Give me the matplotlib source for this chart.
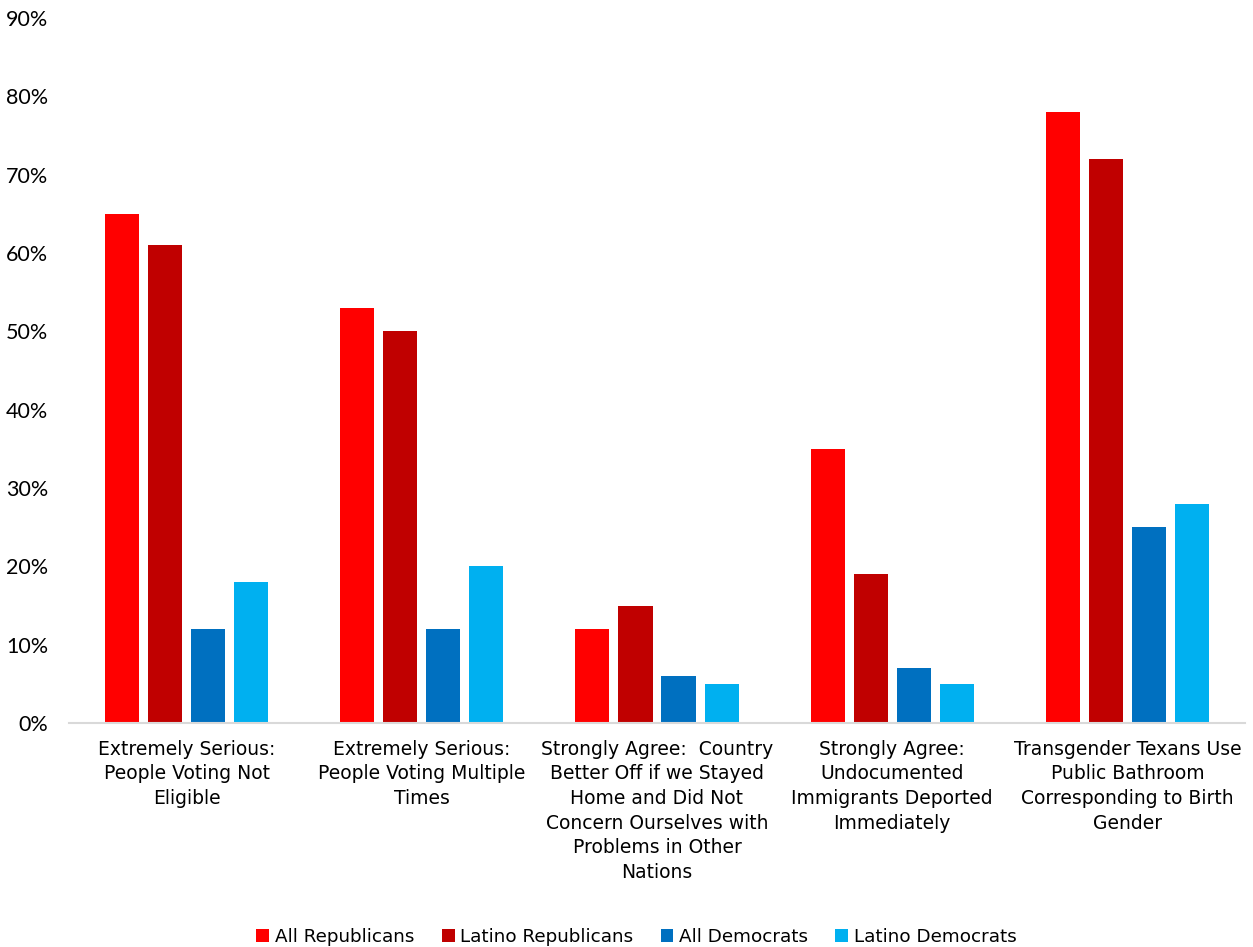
import numpy as np
import matplotlib.pyplot as plt

# categories and values (percent)
categories = ["Extremely Serious:\nPeople Voting Not\nEligible",
              "Extremely Serious:\nPeople Voting Multiple\nTimes",
              "Strongly Agree:  Country\nBetter Off if we Stayed\nHome and Did Not\nConcern Ourselves with\nProblems in Other\nNations",
              "Strongly Agree:\nUndocumented\nImmigrants Deported\nImmediately",
              "Transgender Texans Use\nPublic Bathroom\nCorresponding to Birth\nGender"]
series_names = ["All Republicans", "Latino Republicans", "All Democrats", "Latino Democrats"]
all_rep = [65, 53, 12, 35, 78]
lat_rep = [61, 50, 15, 19, 72]
all_dem = [12, 12, 6, 7, 25]
lat_dem = [18, 20, 5, 5, 28]
colors = ["#FF0000", "#C00000", "#0070C0", "#00B0F0"]

plt.rcParams['font.family'] = ['DejaVu Sans']

fig = plt.figure(figsize=(12.53, 9.47), dpi=100)
ax = fig.add_axes([69/1253, 1 - 723/947, (1245-69)/1253, (723-18)/947])

x = np.arange(len(categories))
width = 0.145
pitch = 0.183
data = [all_rep, lat_rep, all_dem, lat_dem]
for i, vals in enumerate(data):
    ax.bar(x + (i - 1.5) * pitch, vals, width, color=colors[i], label=series_names[i])

ax.set_xlim(-0.5, 4.5)
ax.set_ylim(0, 90)
ax.set_yticks(range(0, 91, 10))
ax.set_yticklabels([f"{v}%" for v in range(0, 91, 10)], fontsize=15.5, family="Lato")
ax.set_xticks(x)
ax.set_xticklabels(categories, fontsize=13.5, linespacing=1.38)
ax.tick_params(length=0, pad=12)
ax.tick_params(axis='y', pad=15)
for s in ["top", "right", "left"]:
    ax.spines[s].set_visible(False)
ax.spines["bottom"].set_color("#D9D9D9")
ax.spines["bottom"].set_linewidth(1.5)

fig.legend(loc="lower center", ncol=4, frameon=False, fontsize=13.2,
           bbox_to_anchor=(0.508, -0.016), handlelength=0.7, handleheight=0.7,
           handletextpad=0.3, columnspacing=1.5)

fig.savefig("out.png", dpi=100)
